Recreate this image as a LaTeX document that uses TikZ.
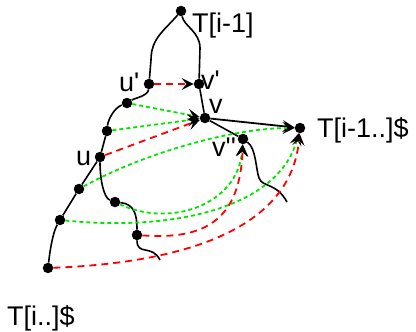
\documentclass[tikz,border=0pt]{standalone}
\usepackage{fontspec}
\setmainfont{Liberation Sans}
\usetikzlibrary{arrows.meta}
\definecolor{dred}{RGB}{255,0,0}
\definecolor{dgreen}{RGB}{0,230,0}
\tikzset{
  dot/.style={circle,fill=black,inner sep=0pt,minimum size=10.5pt},
  lbl/.style={anchor=base west,inner sep=0pt,font=\fontsize{27}{30}\selectfont},
  branch/.style={line width=1.6pt},
  tip/.style={-{Stealth[black,length=12pt,width=12pt,inset=5pt]}},
  redarr/.style={dred,line width=1.8pt,dash pattern=on 7pt off 5pt,tip},
  greenarr/.style={dgreen,line width=1.8pt,dash pattern=on 4pt off 3pt,tip},
}
\begin{document}
\begin{tikzpicture}[x=1pt,y=-1pt]
\useasboundingbox (0,0) rectangle (416,332);
% points of the tree
\node[dot] (top) at (181,11) {};
\node[dot] (up) at (149,84) {};
\node[dot] (vp) at (199,84) {};
\node[dot] (a) at (127,103) {};
\node[dot] (v) at (205,118) {};
\node[dot] (b) at (107,131) {};
\node[dot] (u) at (100,157) {};
\node[dot] (suf) at (300,128) {};
\node[dot] (vpp) at (243,139) {};
\node[dot] (c) at (79,189) {};
\node[dot] (d) at (60,220) {};
\node[dot] (e) at (48,268) {};
\node[dot] (f) at (115,202) {};
\node[dot] (g) at (137,235) {};
\coordinate (fend) at (160,260);
\coordinate (vend) at (287,202);
% labels
\node[lbl] at (192,33) {T[i-1]};
\node[lbl] at (119,92) {u\textquotesingle};
\node[lbl] at (201,89) {v\textquotesingle};
\node[lbl] at (209,113) {v};
\node[lbl] at (76,165) {u};
\node[lbl] at (212,156) {v\textquotesingle\textquotesingle};
\node[lbl] at (317,137) {T[i-1..]\$};
\node[lbl] at (7,325) {T[i..]\$};
% solid branches
\draw[branch] (top) .. controls (165,30) and (151,38) .. (151,60) -- (up);
\draw[branch] (top) .. controls (184,26) and (200,32) .. (200,48) -- (vp);
\draw[branch] (vp) -- (v);
\draw[branch] (up) .. controls (148,96) and (135,98) .. (a);
\draw[branch] (a) .. controls (114,108) and (108,120) .. (b);
\draw[branch] (b) -- (u) -- (c) -- (d) .. controls (53,232) and (50,250) .. (e);
\draw[branch] (u) .. controls (100,180) and (104,198) .. (f);
\draw[branch] (f) .. controls (134,204) and (137,214) .. (g);
\draw[branch] (g) .. controls (137,256) and (152,244) .. (fend);
\draw[branch] (v) -- (vpp);
\draw[branch] (vpp) .. controls (256,148) and (256,170) .. (259,178)
  .. controls (263,188) and (276,182) .. (vend);
\draw[line width=1.8pt,tip] (v) -- (suf);
% suffix links
\draw[redarr] (up) -- (vp);
\draw[greenarr] (a) -- (v);
\draw[greenarr] (b) -- (v);
\draw[redarr] (u) -- (v);
\draw[greenarr] (c) .. controls (140,155) and (230,128) .. (suf);
\draw[greenarr] (f) .. controls (170,228) and (238,205) .. (vpp);
\draw[greenarr] (d) .. controls (180,232) and (280,205) .. (suf);
\draw[redarr] (g) .. controls (205,240) and (240,220) .. (vpp);
\draw[redarr] (e) .. controls (200,262) and (292,222) .. (suf);
\end{tikzpicture}
\end{document}
